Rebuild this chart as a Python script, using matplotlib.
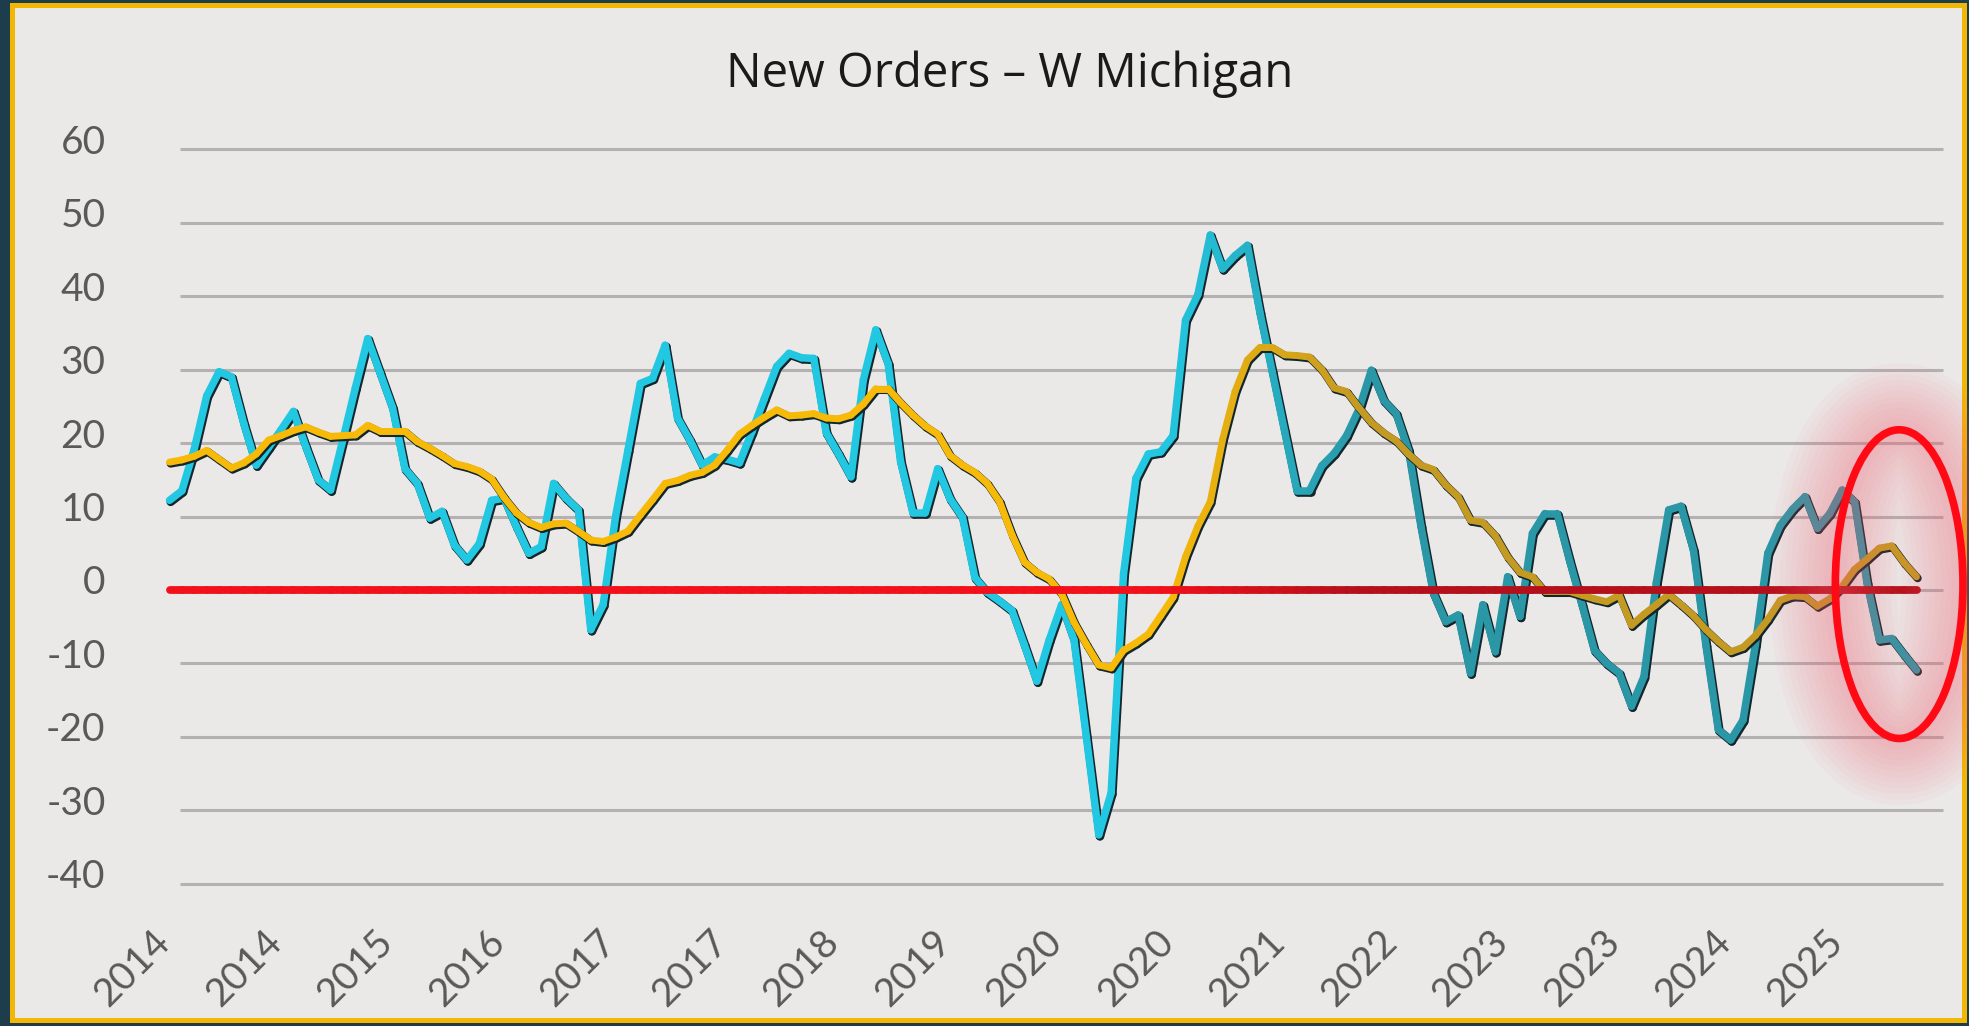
import numpy as np
import matplotlib.pyplot as plt
from matplotlib.collections import LineCollection
from matplotlib.patches import Rectangle, Ellipse
from matplotlib.colors import to_rgb
from matplotlib.transforms import ScaledTranslation

plt.rcParams['axes.unicode_minus'] = False

# monthly index, Jan 2014 .. Oct 2025
new_orders = [
    12.2, 13.5, 19.2, 26.4, 29.7, 29.0, 22.6, 17.0, 19.4, 21.8,
    24.3, 19.5, 15.0, 13.6, 20.5, 27.5, 34.2, 29.5, 24.8, 16.5,
    14.5, 9.8, 10.7, 6.1, 4.1, 6.3, 12.2, 12.5, 8.6, 5.0,
    5.9, 14.5, 12.5, 10.9, -5.4, -2.0, 10.0, 19.0, 28.1, 28.8,
    33.3, 23.4, 20.4, 17.0, 18.1, 17.8, 17.3, 21.5, 26.0, 30.4,
    32.2, 31.6, 31.5, 21.4, 18.5, 15.4, 28.6, 35.4, 30.8, 17.5,
    10.5, 10.5, 16.5, 12.4, 9.9, 1.7, -0.3, -1.5, -2.8, -7.5,
    -12.4, -6.8, -2.0, -6.8, -20.0, -33.3, -27.6, 2.2, 15.2, 18.5,
    18.8, 21.0, 36.7, 40.2, 48.3, 43.7, 45.5, 46.9, 37.8, 29.7,
    21.6, 13.5, 13.5, 16.9, 18.6, 21.0, 24.6, 29.9, 25.8, 24.0,
    19.0, 8.7, -0.4, -4.3, -3.4, -11.3, -2.0, -8.4, 1.8, -3.6,
    7.7, 10.4, 10.4, 4.0, -2.0, -8.2, -10.0, -11.3, -15.8, -11.8,
    1.0, 10.9, 11.4, 5.4, -7.5, -19.0, -20.4, -17.7, -7.4, 5.0,
    8.8, 11.0, 12.7, 8.4, 10.4, 13.6, 12.0, 1.0, -6.8, -6.6,
    -8.8, -10.9,
]

# smoothed (moving average) series
avg_line = [
    17.4, 17.7, 18.2, 19.0, 17.8, 16.6, 17.3, 18.5, 20.4, 21.0,
    21.7, 22.2, 21.5, 20.9, 21.0, 21.1, 22.4, 21.6, 21.6, 21.6,
    20.2, 19.3, 18.3, 17.2, 16.8, 16.2, 15.1, 12.6, 10.5, 9.2,
    8.5, 9.0, 9.1, 8.0, 6.8, 6.6, 7.2, 8.0, 10.2, 12.3,
    14.5, 14.9, 15.6, 16.0, 17.0, 19.0, 21.2, 22.4, 23.5, 24.5,
    23.7, 23.8, 24.0, 23.4, 23.3, 23.8, 25.3, 27.4, 27.4, 25.5,
    23.8, 22.3, 21.2, 18.3, 17.0, 16.0, 14.5, 12.0, 7.5, 3.8,
    2.4, 1.5, -0.5, -4.4, -7.4, -10.2, -10.6, -8.2, -7.2, -6.0,
    -3.5, -1.0, 4.5, 8.7, 12.0, 20.5, 27.0, 31.3, 33.0, 33.0,
    32.0, 31.9, 31.7, 30.0, 27.5, 27.0, 24.8, 22.8, 21.4, 20.3,
    18.5, 17.0, 16.4, 14.3, 12.7, 9.5, 9.2, 7.4, 4.5, 2.4,
    1.8, -0.2, -0.2, -0.2, -0.7, -1.2, -1.6, -0.7, -4.8, -3.3,
    -2.0, -0.6, -2.0, -3.5, -5.4, -7.0, -8.4, -7.8, -6.2, -4.0,
    -1.4, -0.8, -0.9, -2.2, -1.2, 0.5, 2.8, 4.2, 5.7, 6.0,
    3.7, 1.8,
]

x_labels = ["2014", "2014", "2015", "2016", "2017", "2017", "2018", "2019",
            "2020", "2020", "2021", "2022", "2023", "2023", "2024", "2025"]
label_step = 9
y_ticks = [-40, -30, -20, -10, 0, 10, 20, 30, 40, 50, 60]

W, H = 1969, 1026
fig = plt.figure(figsize=(W / 100, H / 100), dpi=100)
fig.patch.set_facecolor('#1d3d4c')

# yellow frame + light panel (behind the axes)
fig.patches.append(Rectangle((10 / W, 3 / H), 1957 / W, 1020 / H, transform=fig.transFigure,
                             facecolor='#f2b705', edgecolor='none', zorder=-3))
fig.patches.append(Rectangle((15 / W, 8 / H), 1947 / W, 1010 / H, transform=fig.transFigure,
                             facecolor='#ebe8e8', edgecolor='none', zorder=-2))

ax = fig.add_axes([150 / W, 1 - 900 / H, 1795 / W, 780 / H])
ax.set_zorder(1)
ax.set_facecolor('none')
for s in ax.spines.values():
    s.set_visible(False)
ax.set_xlim(-1.574, 143.3)
ax.set_ylim(-42.18, 63.95)

ax.hlines(y_ticks, 0.85, 143.1, colors='#b3b1b1', lw=2.2, zorder=1)

months = np.arange(len(new_orders))


def gradient_line(x, y, c0, c1, lw, z, shadow=True):
    x = np.asarray(x, float)
    y = np.asarray(y, float)
    pts = np.column_stack([x, y]).reshape(-1, 1, 2)
    segs = np.concatenate([pts[:-1], pts[1:]], axis=1)
    mid = (x[:-1] + x[1:]) / 2
    t = np.clip((mid - 80) / 16.0, 0, 1)[:, None]
    cols = (1 - t) * np.array(to_rgb(c0)) + t * np.array(to_rgb(c1))
    if shadow:
        sh = LineCollection(segs, colors='#12262c', linewidths=lw + 0.8, capstyle='round',
                            joinstyle='round', zorder=z - 0.5,
                            transform=ax.transData + ScaledTranslation(1.2 / 100, -1.5 / 100, fig.dpi_scale_trans))
        ax.add_collection(sh)
    lc = LineCollection(segs, colors=cols, linewidths=lw, capstyle='round', joinstyle='round', zorder=z)
    ax.add_collection(lc)


gradient_line(months, new_orders, '#22c8e2', '#2a97a7', 5.4, 3)
gradient_line(months, avg_line, '#f7ba08', '#c49a22', 5.0, 5)
gradient_line(months, np.zeros(len(months)), '#f2101a', '#b3101c', 5.6, 7, shadow=False)

# highlight ellipse with soft glow
cx, cy, ew, eh = 139.6, 0.8, 10.3, 42.0
for k in range(12):
    ax.add_patch(Ellipse((cx, cy), ew, eh, facecolor='none', edgecolor='#ff6070',
                         lw=8 + k * 8, alpha=0.035, zorder=8, clip_on=False))
ax.add_patch(Ellipse((cx, cy), ew, eh, facecolor='none', edgecolor='#ff0a14',
                     lw=5.5, zorder=9, clip_on=False))

ax.set_yticks(y_ticks)
ax.set_yticklabels([str(v) for v in y_ticks], family='Lato', fontsize=28, color='#595959')
ax.tick_params(axis='y', length=0, pad=32)
for lbl in ax.get_yticklabels():
    lbl.set_transform(lbl.get_transform() + ScaledTranslation(0, 10 / 100, fig.dpi_scale_trans))

ax.set_xticks(months[::label_step])
ax.set_xticklabels(x_labels, rotation=45, ha='right', va='top', rotation_mode='anchor',
                   family='Lato', fontsize=28, color='#595959')
ax.tick_params(axis='x', length=0, pad=17)
for lbl in ax.get_xticklabels():
    lbl.set_transform(lbl.get_transform() + ScaledTranslation(-18 / 100, 0, fig.dpi_scale_trans))

fig.text(1010 / W, 1 - 74 / H, 'New Orders \u2013 W Michigan', ha='center', va='center',
         fontsize=34, family='Open Sans', color='#1a1a1a')

fig.savefig('out.png', dpi=100, facecolor=fig.get_facecolor())
